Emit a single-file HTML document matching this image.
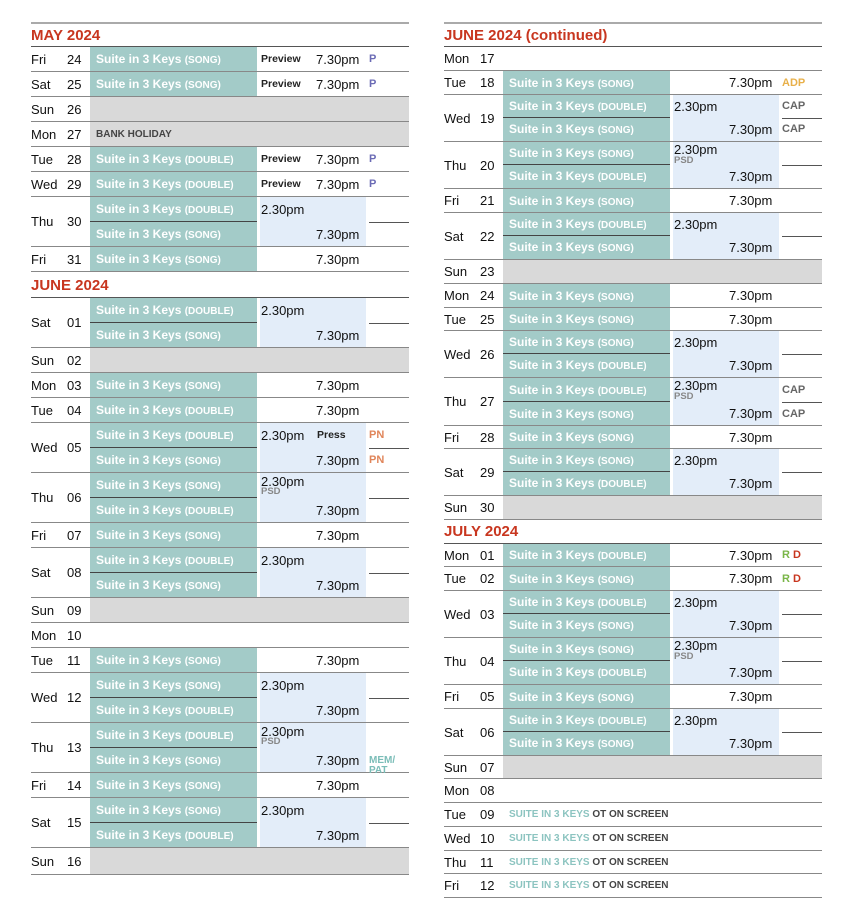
<!DOCTYPE html>
<html><head><meta charset="utf-8"><style>
body{margin:0;width:856px;height:915px;background:#fff;font-family:"Liberation Sans",Arial,sans-serif;position:relative;overflow:hidden}
.col{position:absolute;top:0;width:378px;height:915px}
.hl{position:absolute;left:0;width:378px;height:0;border-top:2px solid #aaa}
.ti{position:absolute;left:0;color:#c8361f;font-weight:bold;font-size:15px}
.r{position:absolute;left:0;width:378px;box-sizing:border-box;border-bottom:1.5px solid #888;font-size:13px;color:#111}
.r>*{position:absolute;top:0;white-space:nowrap;text-decoration:none;font-style:normal;font-weight:normal}
.r .d{left:0}.r .n{left:36px}
.D .d,.D .n{top:25%}
.r .t{left:59px;width:167px;padding-left:6px;box-sizing:border-box;background:#a3cbc8;color:#fff;font-weight:bold;font-size:12px;height:100%}
.t s{text-decoration:none;font-size:10px}
.D .t{height:50%}
.D .t.f{border-bottom:1px solid #444}
.r .b{top:50%}
.r .g{left:59px;right:0;height:100%;background:#d9d9d9}
.r .bl{left:229px;width:106px;height:100%;background:#e3edf9}
.r .p{left:230px;font-size:10.5px;font-weight:bold;color:#222}
.r .x{left:285px}
.r .m{left:230px}
.r .o{left:338px;font-weight:bold;font-size:11px}
.r .ml{left:338px;right:0;top:50%;height:0;border-top:1px solid #555}
.r .psd{left:230px;top:14px;line-height:10px;font-size:9.5px;font-weight:bold;color:#888}
.r .bh{left:65px;font-size:10px;font-weight:bold;color:#444}
.r .ot{left:65px;font-size:10px;font-weight:bold;color:#444}
.ot span{color:#8cc4c0}
</style></head><body>

<div class="col" style="left:31px">
<div class="hl" style="top:22px"></div>
<div class="ti" style="top:27px">MAY 2024</div>
<div class="hl" style="top:46px;border-top:1.5px solid #555"></div>
<div class="r" style="top:47px;height:25px;line-height:25px"><b class="d">Fri</b><b class="n">24</b><i class="t">Suite in 3 Keys <s>(SONG)</s></i><u class="p">Preview</u><u class="x">7.30pm</u><u class="o" style="color:#6b6bb5">P</u></div>
<div class="r" style="top:72px;height:25px;line-height:25px"><b class="d">Sat</b><b class="n">25</b><i class="t">Suite in 3 Keys <s>(SONG)</s></i><u class="p">Preview</u><u class="x">7.30pm</u><u class="o" style="color:#6b6bb5">P</u></div>
<div class="r" style="top:97px;height:25px;line-height:25px"><i class="g"></i><b class="d">Sun</b><b class="n">26</b></div>
<div class="r" style="top:122px;height:25px;line-height:25px"><i class="g"></i><b class="d">Mon</b><b class="n">27</b><u class="bh">BANK HOLIDAY</u></div>
<div class="r" style="top:147px;height:25px;line-height:25px"><b class="d">Tue</b><b class="n">28</b><i class="t">Suite in 3 Keys <s>(DOUBLE)</s></i><u class="p">Preview</u><u class="x">7.30pm</u><u class="o" style="color:#6b6bb5">P</u></div>
<div class="r" style="top:172px;height:25px;line-height:25px"><b class="d">Wed</b><b class="n">29</b><i class="t">Suite in 3 Keys <s>(DOUBLE)</s></i><u class="p">Preview</u><u class="x">7.30pm</u><u class="o" style="color:#6b6bb5">P</u></div>
<div class="r D" style="top:197px;height:50px;line-height:25px"><i class="bl"></i><b class="d">Thu</b><b class="n">30</b><i class="t f">Suite in 3 Keys <s>(DOUBLE)</s></i><i class="t b">Suite in 3 Keys <s>(SONG)</s></i><u class="m">2.30pm</u><u class="x b">7.30pm</u><i class="ml"></i></div>
<div class="r" style="top:247px;height:25px;line-height:25px"><b class="d">Fri</b><b class="n">31</b><i class="t">Suite in 3 Keys <s>(SONG)</s></i><u class="x">7.30pm</u></div>
<div class="ti" style="top:277px">JUNE 2024</div>
<div class="hl" style="top:297px;border-top:1.5px solid #555"></div>
<div class="r D" style="top:298px;height:50px;line-height:25px"><i class="bl"></i><b class="d">Sat</b><b class="n">01</b><i class="t f">Suite in 3 Keys <s>(DOUBLE)</s></i><i class="t b">Suite in 3 Keys <s>(SONG)</s></i><u class="m">2.30pm</u><u class="x b">7.30pm</u><i class="ml"></i></div>
<div class="r" style="top:348px;height:25px;line-height:25px"><i class="g"></i><b class="d">Sun</b><b class="n">02</b></div>
<div class="r" style="top:373px;height:25px;line-height:25px"><b class="d">Mon</b><b class="n">03</b><i class="t">Suite in 3 Keys <s>(SONG)</s></i><u class="x">7.30pm</u></div>
<div class="r" style="top:398px;height:25px;line-height:25px"><b class="d">Tue</b><b class="n">04</b><i class="t">Suite in 3 Keys <s>(DOUBLE)</s></i><u class="x">7.30pm</u></div>
<div class="r D" style="top:423px;height:50px;line-height:25px"><i class="bl"></i><b class="d">Wed</b><b class="n">05</b><i class="t f">Suite in 3 Keys <s>(DOUBLE)</s></i><i class="t b">Suite in 3 Keys <s>(SONG)</s></i><u class="m">2.30pm</u><u class="p" style="left:286px">Press</u><u class="o" style="color:#e0855a">PN</u><u class="x b">7.30pm</u><u class="o b" style="color:#e0855a">PN</u><i class="ml"></i></div>
<div class="r D" style="top:473px;height:50px;line-height:25px"><i class="bl"></i><b class="d">Thu</b><b class="n">06</b><i class="t f">Suite in 3 Keys <s>(SONG)</s></i><i class="t b">Suite in 3 Keys <s>(DOUBLE)</s></i><u class="m" style="top:-4px">2.30pm</u><u class="psd">PSD</u><u class="x b">7.30pm</u><i class="ml"></i></div>
<div class="r" style="top:523px;height:25px;line-height:25px"><b class="d">Fri</b><b class="n">07</b><i class="t">Suite in 3 Keys <s>(SONG)</s></i><u class="x">7.30pm</u></div>
<div class="r D" style="top:548px;height:50px;line-height:25px"><i class="bl"></i><b class="d">Sat</b><b class="n">08</b><i class="t f">Suite in 3 Keys <s>(DOUBLE)</s></i><i class="t b">Suite in 3 Keys <s>(SONG)</s></i><u class="m">2.30pm</u><u class="x b">7.30pm</u><i class="ml"></i></div>
<div class="r" style="top:598px;height:25px;line-height:25px"><i class="g"></i><b class="d">Sun</b><b class="n">09</b></div>
<div class="r" style="top:623px;height:25px;line-height:25px"><b class="d">Mon</b><b class="n">10</b></div>
<div class="r" style="top:648px;height:25px;line-height:25px"><b class="d">Tue</b><b class="n">11</b><i class="t">Suite in 3 Keys <s>(SONG)</s></i><u class="x">7.30pm</u></div>
<div class="r D" style="top:673px;height:50px;line-height:25px"><i class="bl"></i><b class="d">Wed</b><b class="n">12</b><i class="t f">Suite in 3 Keys <s>(SONG)</s></i><i class="t b">Suite in 3 Keys <s>(DOUBLE)</s></i><u class="m">2.30pm</u><u class="x b">7.30pm</u><i class="ml"></i></div>
<div class="r D" style="top:723px;height:50px;line-height:25px"><i class="bl"></i><b class="d">Thu</b><b class="n">13</b><i class="t f">Suite in 3 Keys <s>(DOUBLE)</s></i><i class="t b">Suite in 3 Keys <s>(SONG)</s></i><u class="m" style="top:-4px">2.30pm</u><u class="psd">PSD</u><u class="x b">7.30pm</u><u class="o" style="top:33px;line-height:10px;font-size:10px;color:#7bbdb8">MEM/<br>PAT</u></div>
<div class="r" style="top:773px;height:25px;line-height:25px"><b class="d">Fri</b><b class="n">14</b><i class="t">Suite in 3 Keys <s>(SONG)</s></i><u class="x">7.30pm</u></div>
<div class="r D" style="top:798px;height:50px;line-height:25px"><i class="bl"></i><b class="d">Sat</b><b class="n">15</b><i class="t f">Suite in 3 Keys <s>(SONG)</s></i><i class="t b">Suite in 3 Keys <s>(DOUBLE)</s></i><u class="m">2.30pm</u><u class="x b">7.30pm</u><i class="ml"></i></div>
<div class="r" style="top:848px;height:27px;line-height:27px"><i class="g"></i><b class="d">Sun</b><b class="n">16</b></div>
</div>

<div class="col" style="left:444px">
<div class="hl" style="top:22px"></div>
<div class="ti" style="top:27px">JUNE 2024 (continued)</div>
<div class="hl" style="top:46px;border-top:1.5px solid #555"></div>
<div class="r" style="top:47px;height:24px;line-height:24px"><b class="d">Mon</b><b class="n">17</b></div>
<div class="r" style="top:71px;height:24px;line-height:24px"><b class="d">Tue</b><b class="n">18</b><i class="t">Suite in 3 Keys <s>(SONG)</s></i><u class="x">7.30pm</u><u class="o" style="color:#e8b04a">ADP</u></div>
<div class="r D" style="top:95px;height:47px;line-height:23.5px"><i class="bl"></i><b class="d">Wed</b><b class="n">19</b><i class="t f">Suite in 3 Keys <s>(DOUBLE)</s></i><i class="t b">Suite in 3 Keys <s>(SONG)</s></i><u class="m">2.30pm</u><u class="x b">7.30pm</u><u class="o" style="color:#666">CAP</u><u class="o b" style="color:#666">CAP</u><i class="ml"></i></div>
<div class="r D" style="top:142px;height:47px;line-height:23.5px"><i class="bl"></i><b class="d">Thu</b><b class="n">20</b><i class="t f">Suite in 3 Keys <s>(SONG)</s></i><i class="t b">Suite in 3 Keys <s>(DOUBLE)</s></i><u class="m" style="top:-4px">2.30pm</u><u class="psd">PSD</u><u class="x b">7.30pm</u><i class="ml"></i></div>
<div class="r" style="top:189px;height:24px;line-height:24px"><b class="d">Fri</b><b class="n">21</b><i class="t">Suite in 3 Keys <s>(SONG)</s></i><u class="x">7.30pm</u></div>
<div class="r D" style="top:213px;height:47px;line-height:23.5px"><i class="bl"></i><b class="d">Sat</b><b class="n">22</b><i class="t f">Suite in 3 Keys <s>(DOUBLE)</s></i><i class="t b">Suite in 3 Keys <s>(SONG)</s></i><u class="m">2.30pm</u><u class="x b">7.30pm</u><i class="ml"></i></div>
<div class="r" style="top:260px;height:24px;line-height:24px"><i class="g"></i><b class="d">Sun</b><b class="n">23</b></div>
<div class="r" style="top:284px;height:24px;line-height:24px"><b class="d">Mon</b><b class="n">24</b><i class="t">Suite in 3 Keys <s>(SONG)</s></i><u class="x">7.30pm</u></div>
<div class="r" style="top:308px;height:23px;line-height:23px"><b class="d">Tue</b><b class="n">25</b><i class="t">Suite in 3 Keys <s>(SONG)</s></i><u class="x">7.30pm</u></div>
<div class="r D" style="top:331px;height:47px;line-height:23.5px"><i class="bl"></i><b class="d">Wed</b><b class="n">26</b><i class="t f">Suite in 3 Keys <s>(SONG)</s></i><i class="t b">Suite in 3 Keys <s>(DOUBLE)</s></i><u class="m">2.30pm</u><u class="x b">7.30pm</u><i class="ml"></i></div>
<div class="r D" style="top:378px;height:48px;line-height:24px"><i class="bl"></i><b class="d">Thu</b><b class="n">27</b><i class="t f">Suite in 3 Keys <s>(DOUBLE)</s></i><i class="t b">Suite in 3 Keys <s>(SONG)</s></i><u class="m" style="top:-4px">2.30pm</u><u class="psd">PSD</u><u class="x b">7.30pm</u><u class="o" style="color:#666">CAP</u><u class="o b" style="color:#666">CAP</u><i class="ml"></i></div>
<div class="r" style="top:426px;height:23px;line-height:23px"><b class="d">Fri</b><b class="n">28</b><i class="t">Suite in 3 Keys <s>(SONG)</s></i><u class="x">7.30pm</u></div>
<div class="r D" style="top:449px;height:47px;line-height:23.5px"><i class="bl"></i><b class="d">Sat</b><b class="n">29</b><i class="t f">Suite in 3 Keys <s>(SONG)</s></i><i class="t b">Suite in 3 Keys <s>(DOUBLE)</s></i><u class="m">2.30pm</u><u class="x b">7.30pm</u><i class="ml"></i></div>
<div class="r" style="top:496px;height:24px;line-height:24px"><i class="g"></i><b class="d">Sun</b><b class="n">30</b></div>
<div class="ti" style="top:523px">JULY 2024</div>
<div class="hl" style="top:543px;border-top:1.5px solid #555"></div>
<div class="r" style="top:544px;height:23px;line-height:23px"><b class="d">Mon</b><b class="n">01</b><i class="t">Suite in 3 Keys <s>(DOUBLE)</s></i><u class="x">7.30pm</u><u class="o"><span style="color:#7ab648">R</span> <span style="color:#c8361f">D</span></u></div>
<div class="r" style="top:567px;height:24px;line-height:24px"><b class="d">Tue</b><b class="n">02</b><i class="t">Suite in 3 Keys <s>(SONG)</s></i><u class="x">7.30pm</u><u class="o"><span style="color:#7ab648">R</span> <span style="color:#c8361f">D</span></u></div>
<div class="r D" style="top:591px;height:47px;line-height:23.5px"><i class="bl"></i><b class="d">Wed</b><b class="n">03</b><i class="t f">Suite in 3 Keys <s>(DOUBLE)</s></i><i class="t b">Suite in 3 Keys <s>(SONG)</s></i><u class="m">2.30pm</u><u class="x b">7.30pm</u><i class="ml"></i></div>
<div class="r D" style="top:638px;height:47px;line-height:23.5px"><i class="bl"></i><b class="d">Thu</b><b class="n">04</b><i class="t f">Suite in 3 Keys <s>(SONG)</s></i><i class="t b">Suite in 3 Keys <s>(DOUBLE)</s></i><u class="m" style="top:-4px">2.30pm</u><u class="psd">PSD</u><u class="x b">7.30pm</u><i class="ml"></i></div>
<div class="r" style="top:685px;height:24px;line-height:24px"><b class="d">Fri</b><b class="n">05</b><i class="t">Suite in 3 Keys <s>(SONG)</s></i><u class="x">7.30pm</u></div>
<div class="r D" style="top:709px;height:47px;line-height:23.5px"><i class="bl"></i><b class="d">Sat</b><b class="n">06</b><i class="t f">Suite in 3 Keys <s>(DOUBLE)</s></i><i class="t b">Suite in 3 Keys <s>(SONG)</s></i><u class="m">2.30pm</u><u class="x b">7.30pm</u><i class="ml"></i></div>
<div class="r" style="top:756px;height:23px;line-height:23px"><i class="g"></i><b class="d">Sun</b><b class="n">07</b></div>
<div class="r" style="top:779px;height:24px;line-height:24px"><b class="d">Mon</b><b class="n">08</b></div>
<div class="r" style="top:803px;height:24px;line-height:24px"><b class="d">Tue</b><b class="n">09</b><u class="ot"><span>SUITE IN 3 KEYS</span> OT ON SCREEN</u></div>
<div class="r" style="top:827px;height:24px;line-height:24px"><b class="d">Wed</b><b class="n">10</b><u class="ot"><span>SUITE IN 3 KEYS</span> OT ON SCREEN</u></div>
<div class="r" style="top:851px;height:23px;line-height:23px"><b class="d">Thu</b><b class="n">11</b><u class="ot"><span>SUITE IN 3 KEYS</span> OT ON SCREEN</u></div>
<div class="r" style="top:874px;height:24px;line-height:24px"><b class="d">Fri</b><b class="n">12</b><u class="ot"><span>SUITE IN 3 KEYS</span> OT ON SCREEN</u></div>
</div>
</body></html>
